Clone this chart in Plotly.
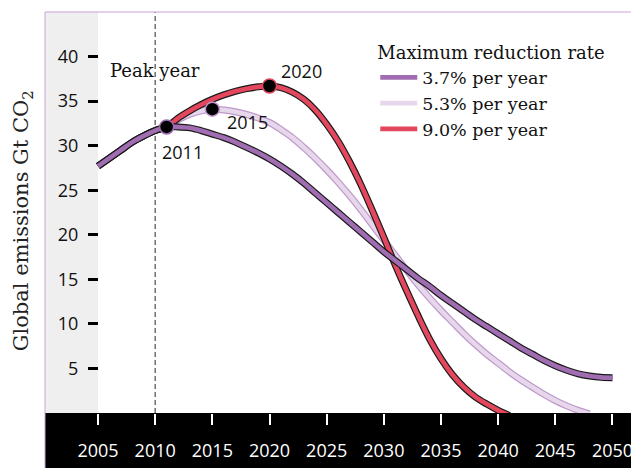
import plotly.graph_objects as go

# ---------------- data ----------------
years_37 = list(range(2005, 2051))
vals_37 = [27.7, 28.6, 29.5, 30.4, 31.1, 31.7, 32.1, 32.1, 32.0, 31.7,
           31.3, 30.9, 30.4, 29.8, 29.2, 28.5, 27.7, 26.8, 25.8, 24.7,
           23.6, 22.5, 21.4, 20.3, 19.2, 18.1, 17.1, 16.1, 15.1, 14.2,
           13.2, 12.3, 11.4, 10.5, 9.7, 8.9, 8.1, 7.3, 6.6, 5.9,
           5.3, 4.8, 4.4, 4.15, 4.0, 3.95]

years_53 = list(range(2005, 2049))
vals_53 = [27.7, 28.6, 29.5, 30.4, 31.1, 31.7, 32.1, 32.9, 33.5, 33.9,
           34.1, 34.0, 33.8, 33.5, 33.1, 32.6, 31.8, 30.9, 29.8, 28.6,
           27.3, 25.9, 24.4, 22.8, 21.1, 19.4, 17.7, 16.0, 14.4, 12.9,
           11.5, 10.2, 8.9, 7.7, 6.6, 5.6, 4.6, 3.7, 2.9, 2.1,
           1.4, 0.8, 0.3, -0.1]

years_90 = list(range(2005, 2042))
vals_90 = [27.7, 28.6, 29.5, 30.4, 31.1, 31.7, 32.1, 33.1, 33.9, 34.6,
           35.2, 35.7, 36.1, 36.4, 36.6, 36.7, 36.5, 36.0, 35.2, 34.0,
           32.4, 30.5, 28.2, 25.6, 22.7, 19.7, 16.6, 13.7, 10.9, 8.3,
           6.1, 4.3, 2.9, 1.8, 1.0, 0.3, -0.3]

series_names = ["3.7% per year", "5.3% per year", "9.0% per year"]
peak_years = [2011, 2015, 2020]
peak_values = [32.1, 34.1, 36.7]
peak_labels = ["2011", "2015", "2020"]

x_ticks = list(range(2005, 2051, 5))
y_ticks = list(range(5, 41, 5))
x_range = [2000.36, 2052.32]
y_range = [0, 45]
shade_end = 2005
peak_marker_year = 2010

# ---------------- style ----------------
fill_cols = ["#a06db2", "#e6d7eb", "#e2475e"]
edge_cols = ["#1a1a1a", "#bf98cc", "#1a1a1a"]
SANS = "Open Sans, Liberation Sans, Arial, sans-serif"
SERIF = "DejaVu Serif, serif"

fig = go.Figure()

data = [(years_37, vals_37), (years_53, vals_53), (years_90, vals_90)]
draw_order = [1, 2, 0]
for i in draw_order:
    xs, ys = data[i]
    fig.add_trace(go.Scatter(
        x=xs, y=ys, mode="lines", showlegend=False, hoverinfo="skip",
        line=dict(color=edge_cols[i], width=7, shape="spline", smoothing=1.0)))
    fig.add_trace(go.Scatter(
        x=xs, y=ys, mode="lines", name=series_names[i], legendrank=i + 1,
        line=dict(color=fill_cols[i], width=4.6, shape="spline", smoothing=1.0)))

fig.add_trace(go.Scatter(
    x=peak_years, y=peak_values, mode="markers", showlegend=False,
    hoverinfo="skip",
    marker=dict(color="black", size=14,
                line=dict(color=[fill_cols[0], "#bf98cc", fill_cols[2]], width=1.5))))

# label offsets (pixels)
offsets = [(16, -25), (35, -13), (32, 15)]
annotations = []
for (px, py, lab, (dx, dy)) in zip(peak_years, peak_values, peak_labels, offsets):
    annotations.append(dict(x=px, y=py, xref="x", yref="y", text=lab,
                            showarrow=False, xshift=dx, yshift=dy,
                            font=dict(family=SANS, size=18, color="#111")))

annotations.append(dict(x=peak_marker_year, y=38.4, xref="x", yref="y",
                        text="Peak year", showarrow=False,
                        font=dict(family=SERIF, size=18, color="#111")))
annotations.append(dict(x=-0.039, y=0.48, xref="paper", yref="paper",
                        text="Global emissions Gt CO<sub>2</sub>", textangle=-90,
                        showarrow=False, xanchor="center", yanchor="middle",
                        font=dict(family=SERIF, size=21, color="#222")))

band_bottom = -55 / 401
shapes = [
    dict(type="rect", xref="paper", yref="paper", x0=0, x1=1, y0=band_bottom, y1=0,
         fillcolor="black", line=dict(width=0), layer="below"),
    dict(type="rect", xref="x", yref="paper", x0=x_range[0], x1=shade_end, y0=0, y1=1,
         fillcolor="#efefef", line=dict(width=0), layer="below"),
    dict(type="line", xref="x", yref="paper", x0=peak_marker_year, x1=peak_marker_year,
         y0=0, y1=1, line=dict(color="#6e6e6e", width=1.5, dash="5px,3px"), layer="below"),
    dict(type="line", xref="paper", yref="paper", x0=0, x1=1, y0=1, y1=1,
         line=dict(color="#c9a2d6", width=1)),
    dict(type="line", xref="paper", yref="paper", x0=0, x1=0, y0=band_bottom, y1=1,
         line=dict(color="#c9a2d6", width=1)),
]

# the page body adds an 8px offset, so the figure is sized to fill the rest
fig.update_layout(
    width=631, height=460,
    margin=dict(l=37, r=0, t=4, b=55, autoexpand=False),
    paper_bgcolor="white", plot_bgcolor="white",
    showlegend=True,
    legend=dict(x=0.556, y=0.94, xanchor="left", yanchor="top",
                bgcolor="rgba(0,0,0,0)", itemwidth=37, tracegroupgap=0,
                title=dict(text="Maximum reduction rate",
                           font=dict(family=SERIF, size=18, color="#111")),
                font=dict(family=SERIF, size=17.5, color="#111")),
    xaxis=dict(range=x_range, tickvals=x_ticks, ticks="outside", ticklen=11,
               tickwidth=2, tickcolor="white", showgrid=False, zeroline=False,
               showline=False, ticklabelstandoff=10, automargin=False,
               tickfont=dict(family=SANS, size=18, color="white")),
    yaxis=dict(range=y_range, tickvals=y_ticks, ticks="outside", ticklen=10,
               tickwidth=3, tickcolor="black", showgrid=False, zeroline=False,
               showline=False, anchor="free", position=(98 - 45) / 594,
               ticklabelstandoff=6, automargin=False,
               tickfont=dict(family=SANS, size=18, color="#111")),
    shapes=shapes,
    annotations=annotations,
)

fig.write_html("out.html")
